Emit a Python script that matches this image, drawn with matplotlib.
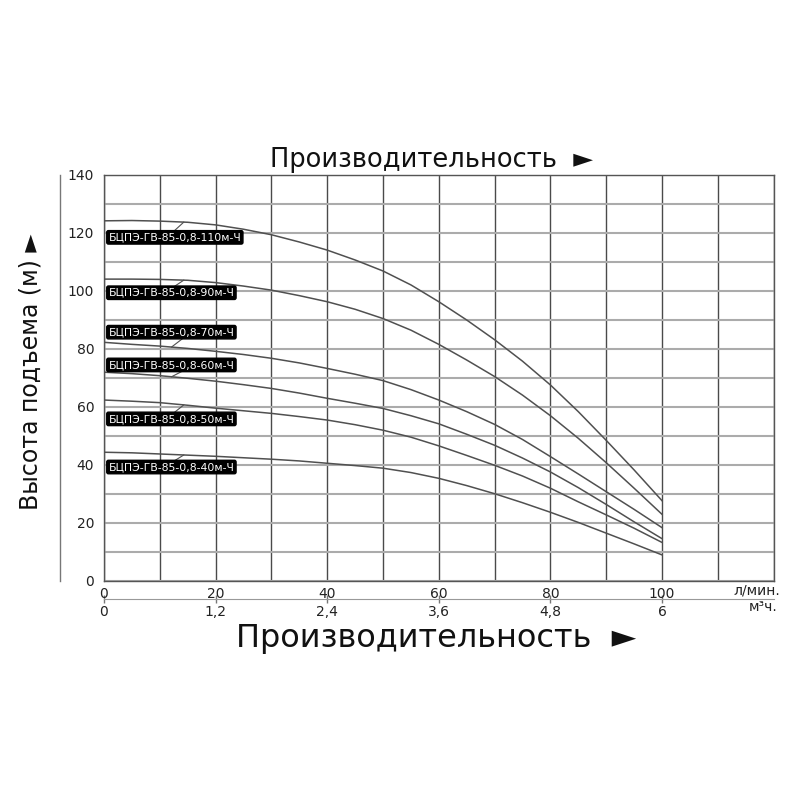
import numpy as np
import matplotlib
matplotlib.use("Agg")
import matplotlib.pyplot as plt

plt.rcParams['font.family'] = ['DejaVu Sans']

# flow, l/min
flow = [0, 5, 10, 15, 20, 25, 30, 35, 40, 45, 50, 55, 60, 65, 70, 75, 80, 85, 90, 95, 100]

# head curves (m)
h110 = [124.2, 124.3, 124.1, 123.7, 122.8, 121.3, 119.4, 116.9, 114.1, 110.7, 106.9,
        102.1, 96.3, 90.0, 83.2, 75.8, 67.6, 58.4, 48.5, 38.3, 27.7]
h90 = [104.1, 104.1, 104.0, 103.7, 102.9, 101.7, 100.3, 98.4, 96.3, 93.7, 90.5,
       86.5, 81.6, 76.2, 70.5, 64.1, 57.0, 49.2, 40.8, 32.0, 23.0]
h70 = [82.3, 81.6, 81.0, 80.2, 79.2, 78.1, 76.8, 75.2, 73.3, 71.3, 69.1,
       66.0, 62.4, 58.4, 54.0, 48.8, 42.9, 36.9, 30.8, 24.7, 18.4]
h60 = [72.0, 71.5, 70.8, 69.9, 68.9, 67.7, 66.4, 64.8, 63.0, 61.3, 59.5,
       57.0, 54.2, 50.6, 46.8, 42.4, 37.6, 32.2, 26.4, 20.4, 14.6]
h50 = [62.4, 62.0, 61.5, 60.6, 59.6, 58.7, 57.8, 56.7, 55.5, 53.9, 52.0,
       49.6, 46.6, 43.3, 39.9, 36.2, 32.0, 27.3, 22.8, 18.2, 13.3]
h40 = [44.4, 44.2, 43.8, 43.4, 43.0, 42.5, 42.0, 41.4, 40.6, 39.8, 38.9,
       37.4, 35.4, 32.9, 30.1, 27.0, 23.7, 20.2, 16.5, 12.8, 9.0]

curves = [h110, h90, h70, h60, h50, h40]
names = ["БЦПЭ-ГВ-85-0,8-110м-Ч", "БЦПЭ-ГВ-85-0,8-90м-Ч", "БЦПЭ-ГВ-85-0,8-70м-Ч",
         "БЦПЭ-ГВ-85-0,8-60м-Ч", "БЦПЭ-ГВ-85-0,8-50м-Ч", "БЦПЭ-ГВ-85-0,8-40м-Ч"]
label_y = [118.5, 99.4, 85.8, 74.5, 55.9, 39.3]

lmin_ticks = [0, 20, 40, 60, 80, 100]
m3h_ticks = [0, 1.2, 2.4, 3.6, 4.8, 6]
m3h_labels = ['0', '1,2', '2,4', '3,6', '4,8', '6']

fig = plt.figure(figsize=(8, 8), dpi=100)
ax = fig.add_axes([0.13, 0.27375, 0.837, 0.5075])

for h in curves:
    ax.plot(flow, h, color='#505050', lw=1.1, zorder=3)

# model labels with leader lines
for h, name, ly in zip(curves, names, label_y):
    below = ly < np.interp(13, flow, h)
    ax.text(0.8, ly, name, fontsize=7.8, color='white', va='center', ha='left',
            bbox=dict(boxstyle='round,pad=0.16', fc='black', ec='black'), zorder=4)
    if below:
        xa, xb, yb = 14.3, 12.4, ly + 1.9
    else:
        xa, xb, yb = 12.1, 14.3, ly - 1.9
    ax.plot([xb, xa], [yb, np.interp(xa, flow, h)], color='#505050', lw=0.8, zorder=3)

ax.set_xlim(0, 120)
ax.set_ylim(0, 140)
ax.set_xticks(np.arange(0, 121, 10))
ax.set_xticklabels([str(v) if v in lmin_ticks else '' for v in range(0, 121, 10)])
ax.set_yticks(np.arange(0, 141, 10))
ax.set_yticklabels([str(v) if v % 20 == 0 else '' for v in range(0, 141, 10)])
ax.tick_params(length=0, labelsize=10, labelcolor='#222222', pad=4)
ax.tick_params(axis='y', pad=7)
ax.grid(axis='x', color='#4a4a4a', lw=1.0)
ax.grid(axis='y', color='#ababab', lw=1.5)
for s in ax.spines.values():
    s.set_color('#555555')
    s.set_linewidth(1.0)

# second flow scale, m3/h
sec = ax.secondary_xaxis(-0.0443, functions=(lambda q: q * 0.06, lambda q: q / 0.06))
sec.set_xticks(m3h_ticks)
sec.set_xticklabels(m3h_labels)
sec.tick_params(direction='inout', length=6, width=1, color='#777777', labelsize=10,
                labelcolor='#222222', pad=1)
sec.spines['bottom'].set_color('#999999')

fig.text(780 / 800, 1 - 591 / 800, "л/мин.", ha='right', va='center', fontsize=10, color='#222222')
fig.text(778 / 800, 1 - 607 / 800, "м³ч.", ha='right', va='center', fontsize=10, color='#222222')

# thin line left of y tick labels
ax.plot([-0.0657, -0.0657], [0, 1], transform=ax.transAxes, color='#777777', lw=1, clip_on=False)

fig.text(0.54, 1 - 160 / 800, "Производительность  ►", ha='center', va='center', fontsize=18.5, color='#111111')
fig.text(0.545, 1 - 638 / 800, "Производительность  ►", ha='center', va='center', fontsize=23, color='#111111')
fig.text(31 / 800, 1 - 372 / 800, "Высота подъема (м) ►", rotation=90, ha='center', va='center',
         fontsize=17, color='#111111')

fig.savefig("out.png", dpi=100, facecolor='white')
